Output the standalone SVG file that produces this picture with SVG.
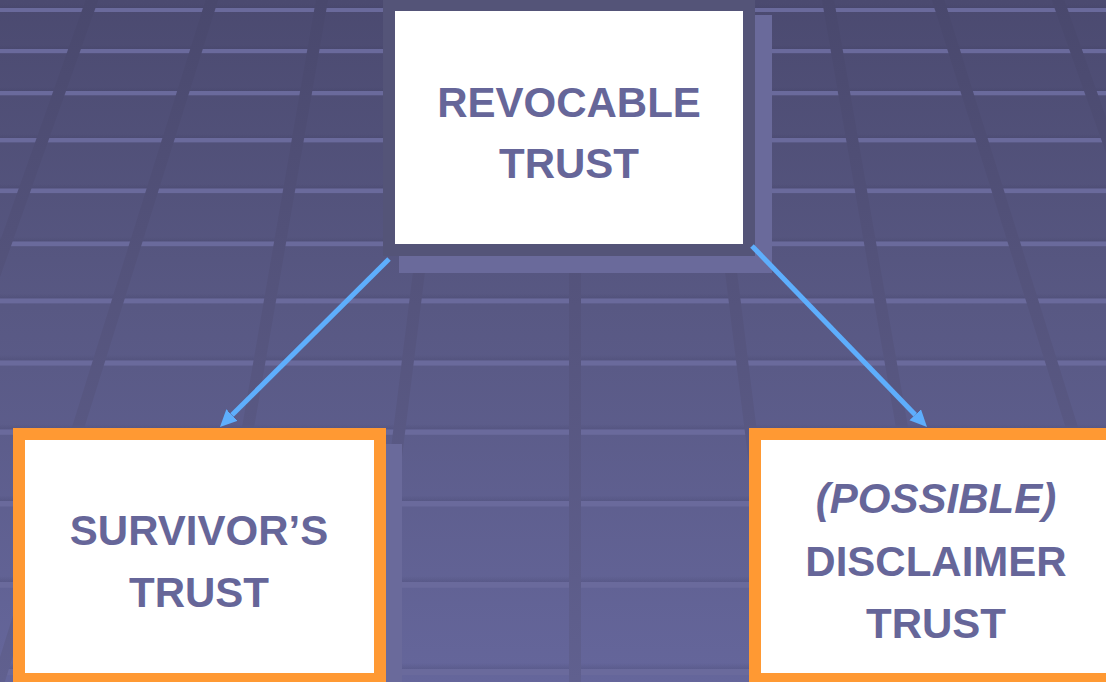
<svg xmlns="http://www.w3.org/2000/svg" width="1106" height="682" viewBox="0 0 1106 682">
  <defs>
    <linearGradient id="floor" x1="0" y1="0" x2="0" y2="682" gradientUnits="userSpaceOnUse">
      <stop offset="0" stop-color="#4b4a70"/>
      <stop offset="0.45" stop-color="#585883"/>
      <stop offset="1" stop-color="#65669b"/>
    </linearGradient>
    <linearGradient id="seam" x1="0" y1="0" x2="0" y2="682" gradientUnits="userSpaceOnUse">
      <stop offset="0" stop-color="#49486d"/>
      <stop offset="0.45" stop-color="#55547d"/>
      <stop offset="1" stop-color="#60608f"/>
    </linearGradient>
    <linearGradient id="shade" x1="0" y1="0" x2="0" y2="1">
      <stop offset="0" stop-color="#3c3c60" stop-opacity="0"/>
      <stop offset="1" stop-color="#3c3c60" stop-opacity="0.22"/>
    </linearGradient>
    <marker id="head" markerUnits="userSpaceOnUse" markerWidth="18" markerHeight="18" refX="0" refY="8" orient="auto">
      <path d="M0,0 L17,8 L0,16 z" fill="#5eaefc"/>
    </marker>
    <style>
      .grout { fill: #6a6a9c; }
      .grout-shade { fill: url(#shade); }
      .seam { stroke: url(#seam); stroke-width: 12; fill: none; }
      .shadow { fill: #6a6a9b; }
      .frame-dark { fill: #545478; }
      .frame-orange { fill: #ff9933; }
      .panel { fill: #ffffff; }
      .label { font-family: "Liberation Sans", Arial, Helvetica, sans-serif; font-weight: bold; font-size: 42px; fill: #666699; text-anchor: middle; }
      .label-italic { font-style: italic; }
      .arrow { stroke: #5eaefc; stroke-width: 5; fill: none; marker-end: url(#head); }
    </style>
  </defs>

  <!-- tiled floor backdrop -->
  <g id="backdrop">
    <rect x="0" y="0" width="1106" height="682" fill="url(#floor)"/>
    <!-- horizontal grout lines -->
    <g>
      <rect class="grout-shade" x="0" y="4" width="1106" height="4"/><rect class="grout" x="0" y="8" width="1106" height="4"/>
      <rect class="grout-shade" x="0" y="45" width="1106" height="4"/><rect class="grout" x="0" y="49" width="1106" height="4.2"/>
      <rect class="grout-shade" x="0" y="87" width="1106" height="4"/><rect class="grout" x="0" y="91" width="1106" height="4.3"/>
      <rect class="grout-shade" x="0" y="134" width="1106" height="4"/><rect class="grout" x="0" y="138" width="1106" height="4.4"/>
      <rect class="grout-shade" x="0" y="184" width="1106" height="4.5"/><rect class="grout" x="0" y="188.5" width="1106" height="4.6"/>
      <rect class="grout-shade" x="0" y="237" width="1106" height="4.5"/><rect class="grout" x="0" y="241.5" width="1106" height="4.7"/>
      <rect class="grout-shade" x="0" y="293.5" width="1106" height="5"/><rect class="grout" x="0" y="298.5" width="1106" height="4.9"/>
      <rect class="grout-shade" x="0" y="355" width="1106" height="5.5"/><rect class="grout" x="0" y="360.5" width="1106" height="5.1"/>
      <rect class="grout-shade" x="0" y="424" width="1106" height="5.5"/><rect class="grout" x="0" y="429.5" width="1106" height="5.3"/>
      <rect class="grout-shade" x="0" y="495.5" width="1106" height="5.5"/><rect class="grout" x="0" y="501" width="1106" height="5.5"/>
      <rect class="grout-shade" x="0" y="576" width="1106" height="6"/><rect class="grout" x="0" y="582" width="1106" height="5.8"/>
      <rect class="grout-shade" x="0" y="663" width="1106" height="6"/><rect class="grout" x="0" y="669" width="1106" height="6"/>
    </g>
    <!-- receding seams, converging toward the top centre -->
    <g>
      <line class="seam" x1="95.5" y1="-10" x2="-150" y2="682"/>
      <line class="seam" x1="215" y1="-10" x2="-1.5" y2="682"/>
      <line class="seam" x1="323.7" y1="-10" x2="204" y2="682"/>
      <line class="seam" x1="454" y1="-10" x2="368" y2="682"/>
      <line class="seam" x1="575" y1="-10" x2="575" y2="682"/>
      <line class="seam" x1="696" y1="-10" x2="782" y2="682"/>
      <line class="seam" x1="826.3" y1="-10" x2="946" y2="682"/>
      <line class="seam" x1="935" y1="-10" x2="1151.5" y2="682"/>
      <line class="seam" x1="1054.5" y1="-10" x2="1300" y2="682"/>
    </g>
  </g>

  <!-- top node -->
  <g id="revocable-trust">
    <rect class="shadow" x="399" y="15" width="373" height="258"/>
    <rect class="frame-dark" x="383" y="-1" width="372" height="257"/>
    <rect class="panel" x="395" y="11" width="348" height="233"/>
    <text class="label" x="569" y="117">REVOCABLE</text>
    <text class="label" x="569" y="178">TRUST</text>
  </g>

  <!-- lower left node -->
  <g id="survivors-trust">
    <rect class="shadow" x="29" y="444" width="373" height="258"/>
    <rect class="frame-orange" x="13" y="428" width="373" height="257"/>
    <rect class="panel" x="25" y="440" width="349" height="233"/>
    <text class="label" x="199" y="545">SURVIVOR’S</text>
    <text class="label" x="199" y="607">TRUST</text>
  </g>

  <!-- lower right node -->
  <g id="disclaimer-trust">
    <rect class="shadow" x="765" y="444" width="373" height="258"/>
    <rect class="frame-orange" x="749" y="428" width="373" height="257"/>
    <rect class="panel" x="761" y="440" width="349" height="233"/>
    <text class="label label-italic" x="936" y="513">(POSSIBLE)</text>
    <text class="label" x="936" y="576">DISCLAIMER</text>
    <text class="label" x="936" y="638">TRUST</text>
  </g>

  <!-- connectors -->
  <g id="connectors">
    <line class="arrow" x1="389" y1="259" x2="232" y2="415"/>
    <line class="arrow" x1="752" y1="246" x2="915.2" y2="414.8"/>
  </g>
</svg>
